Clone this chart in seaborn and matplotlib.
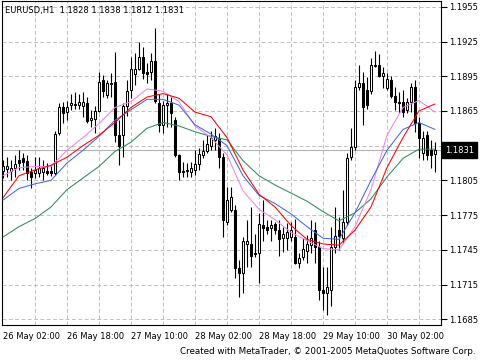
import numpy as np
import pandas as pd
import matplotlib
matplotlib.use("Agg")
import matplotlib.pyplot as plt
import matplotlib.transforms as mtransforms
from matplotlib.ticker import FormatStrFormatter
import seaborn as sns

symbol_title = "EURUSD,H1  1.1828 1.1838 1.1812 1.1831"
credit = "Created with MetaTrader, \u00a9 2001-2005 MetaQuotes Software Corp."
last_close = 1.1831

open_ = [1.1813, 1.1815, 1.1813, 1.1816, 1.1823, 1.1824, 1.1822, 1.1812, 1.1811, 1.1811,
         1.1812, 1.1813, 1.1813, 1.1811, 1.1846, 1.1868, 1.1864, 1.1870, 1.1870, 1.1870,
         1.1869, 1.1872, 1.1857, 1.1858, 1.1865, 1.1892, 1.1879, 1.1888, 1.1890, 1.1844,
         1.1844, 1.1869, 1.1883, 1.1897, 1.1901, 1.1912, 1.1899, 1.1899, 1.1908, 1.1872,
         1.1853, 1.1870, 1.1872, 1.1857, 1.1827, 1.1813, 1.1813, 1.1812, 1.1814, 1.1819,
         1.1827, 1.1830, 1.1835, 1.1840, 1.1842, 1.1825, 1.1769, 1.1779, 1.1779, 1.1729,
         1.1725, 1.1750, 1.1750, 1.1742, 1.1742, 1.1766, 1.1765, 1.1764, 1.1767, 1.1762,
         1.1755, 1.1755, 1.1756, 1.1756, 1.1734, 1.1739, 1.1744, 1.1749, 1.1762, 1.1747,
         1.1710, 1.1708, 1.1710, 1.1747, 1.1762, 1.1755, 1.1769, 1.1825, 1.1834, 1.1886,
         1.1889, 1.1883, 1.1882, 1.1904, 1.1905, 1.1895, 1.1885, 1.1892, 1.1878, 1.1873,
         1.1873, 1.1866, 1.1873, 1.1886, 1.1855, 1.1829, 1.1844, 1.1831, 1.1828]
high = [1.1823, 1.1825, 1.1823, 1.1827, 1.1831, 1.1829, 1.1827, 1.1816, 1.1825, 1.1825,
        1.1823, 1.1820, 1.1818, 1.1848, 1.1872, 1.1873, 1.1874, 1.1880, 1.1881, 1.1880,
        1.1881, 1.1877, 1.1866, 1.1869, 1.1899, 1.1896, 1.1892, 1.1898, 1.1916, 1.1857,
        1.1872, 1.1892, 1.1912, 1.1915, 1.1925, 1.1920, 1.1906, 1.1915, 1.1937, 1.1880,
        1.1874, 1.1880, 1.1877, 1.1860, 1.1828, 1.1821, 1.1820, 1.1821, 1.1831, 1.1833,
        1.1840, 1.1844, 1.1848, 1.1850, 1.1846, 1.1829, 1.1799, 1.1799, 1.1784, 1.1736,
        1.1756, 1.1771, 1.1782, 1.1759, 1.1777, 1.1788, 1.1771, 1.1771, 1.1769, 1.1771,
        1.1765, 1.1768, 1.1769, 1.1772, 1.1742, 1.1755, 1.1758, 1.1771, 1.1769, 1.1753,
        1.1730, 1.1730, 1.1765, 1.1782, 1.1773, 1.1797, 1.1829, 1.1850, 1.1892, 1.1905,
        1.1899, 1.1894, 1.1911, 1.1917, 1.1914, 1.1903, 1.1898, 1.1895, 1.1886, 1.1881,
        1.1883, 1.1876, 1.1889, 1.1892, 1.1860, 1.1848, 1.1848, 1.1840, 1.1838]
low = [1.1807, 1.1808, 1.1805, 1.1808, 1.1814, 1.1814, 1.1805, 1.1798, 1.1807, 1.1808,
       1.1805, 1.1810, 1.1809, 1.1810, 1.1844, 1.1855, 1.1857, 1.1866, 1.1867, 1.1867,
       1.1860, 1.1855, 1.1851, 1.1846, 1.1864, 1.1877, 1.1876, 1.1877, 1.1838, 1.1818,
       1.1825, 1.1861, 1.1876, 1.1887, 1.1900, 1.1893, 1.1889, 1.1892, 1.1872, 1.1847,
       1.1846, 1.1851, 1.1851, 1.1825, 1.1805, 1.1808, 1.1808, 1.1808, 1.1810, 1.1814,
       1.1824, 1.1829, 1.1831, 1.1831, 1.1816, 1.1756, 1.1766, 1.1778, 1.1721, 1.1704,
       1.1708, 1.1730, 1.1730, 1.1739, 1.1716, 1.1753, 1.1759, 1.1753, 1.1759, 1.1740,
       1.1743, 1.1745, 1.1753, 1.1733, 1.1729, 1.1736, 1.1734, 1.1742, 1.1734, 1.1702,
       1.1693, 1.1689, 1.1696, 1.1742, 1.1745, 1.1751, 1.1766, 1.1823, 1.1831, 1.1883,
       1.1853, 1.1867, 1.1880, 1.1903, 1.1894, 1.1885, 1.1883, 1.1876, 1.1866, 1.1863,
       1.1860, 1.1863, 1.1864, 1.1847, 1.1824, 1.1823, 1.1823, 1.1816, 1.1812]
close = [1.1817, 1.1817, 1.1816, 1.1819, 1.1820, 1.1821, 1.1811, 1.1808, 1.1814, 1.1816,
         1.1816, 1.1811, 1.1811, 1.1845, 1.1868, 1.1863, 1.1868, 1.1872, 1.1871, 1.1873,
         1.1873, 1.1856, 1.1859, 1.1865, 1.1890, 1.1882, 1.1889, 1.1889, 1.1844, 1.1835,
         1.1869, 1.1882, 1.1901, 1.1901, 1.1912, 1.1898, 1.1897, 1.1908, 1.1874, 1.1853,
         1.1870, 1.1872, 1.1863, 1.1827, 1.1812, 1.1812, 1.1814, 1.1816, 1.1819, 1.1828,
         1.1830, 1.1836, 1.1842, 1.1843, 1.1825, 1.1771, 1.1788, 1.1791, 1.1729, 1.1725,
         1.1753, 1.1753, 1.1740, 1.1741, 1.1767, 1.1764, 1.1762, 1.1766, 1.1762, 1.1754,
         1.1759, 1.1760, 1.1762, 1.1734, 1.1738, 1.1746, 1.1750, 1.1755, 1.1747, 1.1710,
         1.1708, 1.1713, 1.1747, 1.1757, 1.1757, 1.1769, 1.1824, 1.1834, 1.1886, 1.1889,
         1.1868, 1.1870, 1.1905, 1.1905, 1.1895, 1.1898, 1.1893, 1.1878, 1.1873, 1.1872,
         1.1864, 1.1873, 1.1886, 1.1855, 1.1842, 1.1842, 1.1827, 1.1827, 1.1831]

ma_index = list(range(0, 109, 4))
ma_red = [1.1790, 1.1809, 1.1814, 1.1818, 1.1825, 1.1835, 1.1844, 1.1855, 1.1868, 1.1877,
          1.1880, 1.1876, 1.1864, 1.1860, 1.1842, 1.1814, 1.1793, 1.1782, 1.1766, 1.1754,
          1.1750, 1.1749, 1.1762, 1.1782, 1.1816, 1.1842, 1.1865, 1.1871]
ma_blue = [1.1788, 1.1798, 1.1802, 1.1805, 1.1820, 1.1831, 1.1843, 1.1857, 1.1866, 1.1875,
           1.1875, 1.1870, 1.1853, 1.1845, 1.1835, 1.1809, 1.1792, 1.1785, 1.1776, 1.1765,
           1.1755, 1.1754, 1.1777, 1.1805, 1.1831, 1.1849, 1.1855, 1.1849]
ma_violet = [1.1809, 1.1816, 1.1817, 1.1817, 1.1831, 1.1842, 1.1854, 1.1868, 1.1873, 1.1884,
             1.1882, 1.1873, 1.1852, 1.1842, 1.1827, 1.1796, 1.1780, 1.1771, 1.1760, 1.1753,
             1.1746, 1.1745, 1.1765, 1.1797, 1.1844, 1.1868, 1.1874, 1.1864]
ma_green = [1.1756, 1.1765, 1.1772, 1.1782, 1.1797, 1.1807, 1.1817, 1.1830, 1.1838, 1.1850,
            1.1855, 1.1852, 1.1847, 1.1843, 1.1840, 1.1822, 1.1809, 1.1801, 1.1794, 1.1787,
            1.1778, 1.1770, 1.1777, 1.1789, 1.1808, 1.1824, 1.1832, 1.1832]

xtick_pos = [0, 16, 32, 48, 64, 80, 96]
xtick_labels = ["26 May 02:00", "26 May 18:00", "27 May 10:00", "28 May 02:00",
                "28 May 18:00", "29 May 10:00", "30 May 02:00"]
ytick_vals = [1.1685, 1.1715, 1.1745, 1.1775, 1.1805, 1.1835, 1.1865, 1.1895, 1.1925, 1.1955]

sns.set_style("white")
plt.rcParams['font.family'] = ['DejaVu Sans']

fig = plt.figure(figsize=(4.8, 3.6), dpi=100)
ax = fig.add_axes([2 / 480, 35 / 360, 439 / 480, 324 / 360])

grid_kw = dict(color='#c0c0c0', linestyle=(0, (4, 2.5)), linewidth=0.7, zorder=0.5)
for gx in range(8, 109, 8):
    ax.axvline(gx, **grid_kw)
for gy in ytick_vals:
    ax.axhline(gy, **grid_kw)
ax.axhline(last_close, color='#b4b4b4', linewidth=0.8, zorder=0.8)

o = np.array(open_); c = np.array(close); h = np.array(high); l = np.array(low)
idx = np.arange(len(o))
up = c >= o
ax.vlines(idx, l, h, colors='black', linewidth=0.8, zorder=2)
body_bottom = np.minimum(o, c)
body_h = np.maximum(np.abs(c - o), 0.00002)
ax.bar(idx[up], body_h[up], bottom=body_bottom[up], width=0.55,
       facecolor='white', edgecolor='black', linewidth=0.75, zorder=2.5)
ax.bar(idx[~up], body_h[~up], bottom=body_bottom[~up], width=0.55,
       facecolor='black', edgecolor='black', linewidth=0.75, zorder=2.5)

n_ma = len(ma_index)
ma_df = pd.DataFrame({
    'bar': ma_index * 4,
    'price': ma_green + ma_violet + ma_blue + ma_red,
    'ma': ['green'] * n_ma + ['violet'] * n_ma + ['blue'] * n_ma + ['red'] * n_ma,
})
palette = {'green': '#2e8b57', 'violet': '#ee82ee', 'blue': '#4169e1', 'red': '#ff0000'}
sns.lineplot(data=ma_df, x='bar', y='price', hue='ma', palette=palette,
             hue_order=['green', 'violet', 'blue', 'red'], legend=False,
             linewidth=0.75, estimator=None, ax=ax, zorder=3)

ax.set_xlabel('')
ax.set_ylabel('')
ax.set_xlim(-0.25, 109.5)
ax.set_ylim(1.1680, 1.1960)
ax.set_xticks(xtick_pos)
ax.set_xticklabels(xtick_labels)
for lbl in ax.get_xticklabels():
    lbl.set_ha('left')
ax.set_yticks(ytick_vals)
ax.yaxis.set_major_formatter(FormatStrFormatter('%.4f'))
ax.yaxis.tick_right()
ax.tick_params(axis='x', direction='out', length=3, width=0.8, pad=2, labelsize=6, colors='black')
ax.tick_params(axis='y', direction='out', length=4, width=0.8, pad=1.5, labelsize=6, colors='black',
               right=True, left=False, labelright=True, labelleft=False)
for sp in ax.spines.values():
    sp.set_color('black')
    sp.set_linewidth(0.8)
    sp.set_visible(True)

trans = mtransforms.blended_transform_factory(ax.transAxes, ax.transData)
ax.text(1.0 + 4 / 439, last_close, f"{last_close:.4f}", transform=trans, ha='left', va='center',
        fontsize=6, color='white', clip_on=False, zorder=6,
        bbox=dict(boxstyle='square,pad=0.4', fc='black', ec='black'))

fig.text(5 / 480, 1 - 10 / 360, symbol_title, ha='left', va='center', fontsize=6, color='black')
fig.text(476 / 480, 1 - 352 / 360, credit, ha='right', va='center', fontsize=6.3, color='black')

fig.savefig('out.png', dpi=100)
